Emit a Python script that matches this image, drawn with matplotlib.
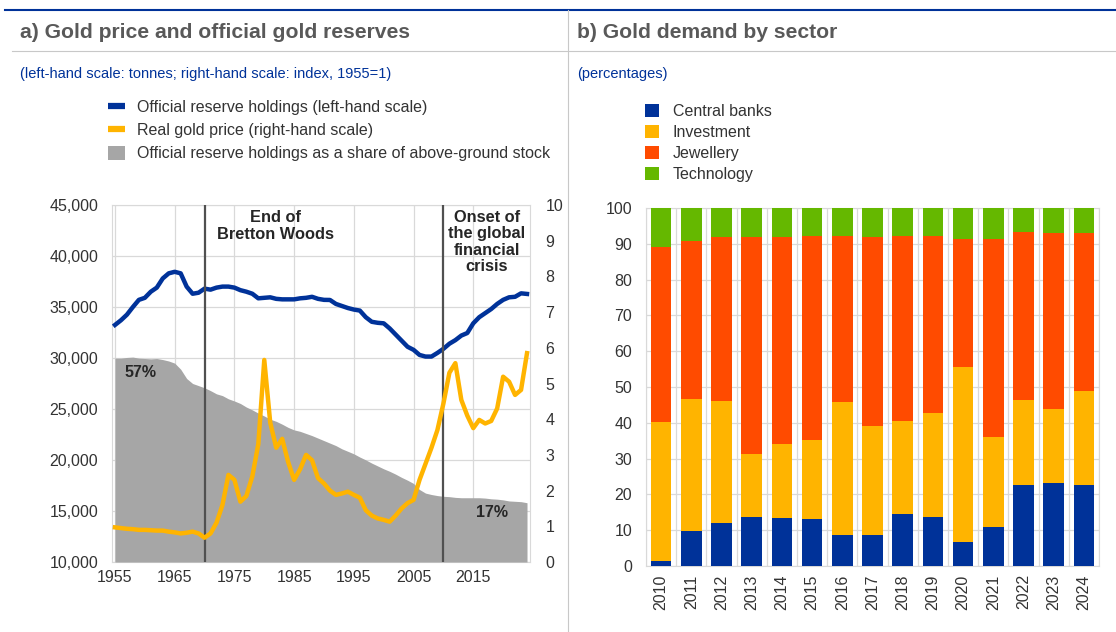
import matplotlib
matplotlib.use('Agg')
import matplotlib.pyplot as plt
import numpy as np
from matplotlib.lines import Line2D
from matplotlib.patches import Patch
from matplotlib.ticker import FuncFormatter, MultipleLocator

plt.rcParams['font.family'] = ['Liberation Sans', 'DejaVu Sans']

# ---------------- data: panel a ----------------
years = list(range(1955, 2025))
reserves = [33240, 33700, 34250, 35000, 35700, 35900, 36500, 36900, 37800, 38300,
            38450, 38300, 37000, 36300, 36400, 36800, 36700, 36900, 37000, 37000,
            36900, 36650, 36500, 36300, 35850, 35900, 35950, 35800, 35750, 35750,
            35750, 35850, 35900, 36000, 35800, 35700, 35690, 35300, 35100, 34900,
            34750, 34650, 34000, 33550, 33450, 33400, 32900, 32300, 31700, 31100,
            30800, 30300, 30140, 30140, 30500, 30900, 31400, 31750, 32200, 32450,
            33400, 34000, 34400, 34800, 35300, 35700, 35950, 36000, 36340, 36280]
gold_price = [0.97, 0.95, 0.93, 0.92, 0.90, 0.90, 0.89, 0.88, 0.88, 0.85,
              0.83, 0.80, 0.82, 0.85, 0.80, 0.68, 0.80, 1.10, 1.60, 2.44,
              2.30, 1.69, 1.85, 2.40, 3.30, 5.66, 3.90, 3.20, 3.45, 2.80,
              2.30, 2.60, 3.00, 2.85, 2.35, 2.20, 2.00, 1.88, 1.92, 1.97,
              1.88, 1.80, 1.45, 1.30, 1.22, 1.18, 1.13, 1.30, 1.50, 1.65,
              1.74, 2.30, 2.75, 3.20, 3.70, 4.44, 5.30, 5.57, 4.54, 4.10,
              3.75, 3.98, 3.88, 3.95, 4.30, 5.19, 5.05, 4.68, 4.82, 5.85]
share = [57.1, 57.1, 57.3, 57.4, 57.1, 57.0, 56.9, 57.0, 56.7, 56.3,
         55.7, 54.0, 51.4, 50.0, 49.4, 48.8, 48.0, 47.1, 46.6, 45.7,
         45.1, 44.4, 43.4, 42.6, 41.7, 40.9, 40.0, 39.4, 38.6, 37.7,
         37.0, 36.6, 36.0, 35.4, 34.7, 34.0, 33.3, 32.6, 31.7, 31.0,
         30.3, 29.4, 28.6, 27.7, 26.9, 26.1, 25.4, 24.6, 23.7, 22.9,
         22.0, 20.3, 19.3, 18.9, 18.6, 18.4, 18.3, 18.1, 18.0, 18.0,
         18.0, 18.0, 17.9, 17.7, 17.6, 17.4, 17.1, 17.0, 16.9, 16.6]
event_years = [1970, 2010]
event_labels = ['End of\nBretton Woods', 'Onset of\nthe global\nfinancial\ncrisis']
share_labels = ['57%', '17%']

# ---------------- data: panel b ----------------
bar_years = [str(y) for y in range(2010, 2025)]
central_banks = [1.5, 9.8, 11.9, 13.6, 13.3, 13.0, 8.7, 8.7, 14.5, 13.8, 6.6, 10.8, 22.6, 23.1, 22.6]
investment = [38.7, 36.8, 34.3, 17.6, 20.8, 22.2, 37.2, 30.4, 26.1, 28.9, 49.0, 25.2, 23.7, 20.7, 26.2]
jewellery = [48.8, 44.2, 45.6, 60.6, 57.7, 57.1, 46.4, 52.7, 51.7, 49.6, 35.8, 55.4, 47.0, 49.2, 44.2]
technology = [11.0, 9.2, 8.2, 8.2, 8.2, 7.7, 7.7, 8.2, 7.7, 7.7, 8.6, 8.6, 6.7, 7.0, 7.0]
sectors = ['Central banks', 'Investment', 'Jewellery', 'Technology']

BLUE = '#003299'
GOLD = '#FFB400'
ORANGE = '#FF4B00'
GREEN = '#65B800'
GREY = '#A6A6A6'
TEXT = '#333333'
GRID = '#D9D9D9'
FS = 11.5

W, H = 1116, 632
fig = plt.figure(figsize=(W / 100, H / 100), dpi=100)


def fx(x):
    return x / W


def fy(y):
    return 1 - y / H


# frame lines
fig.add_artist(Line2D([fx(5), 1], [fy(10), fy(10)], color=BLUE, lw=1.5))
fig.add_artist(Line2D([fx(12), 1], [fy(51), fy(51)], color='#C8C8C8', lw=0.8))
fig.add_artist(Line2D([fx(568), fx(568)], [fy(10), 0], color='#C8C8C8', lw=0.8))

fig.text(fx(20), fy(32), 'a) Gold price and official gold reserves', fontsize=15.2,
         fontweight='bold', color='#595959', va='center')
fig.text(fx(577), fy(32), 'b) Gold demand by sector', fontsize=15.2,
         fontweight='bold', color='#595959', va='center')
fig.text(fx(20), fy(74), '(left-hand scale: tonnes; right-hand scale: index, 1955=1)',
         fontsize=10.5, color=BLUE, va='center')
fig.text(fx(577), fy(74), '(percentages)', fontsize=10.5, color=BLUE, va='center')

# ---------------- panel a ----------------
ax = fig.add_axes([fx(112), fy(562), (530 - 112) / W, (562 - 205) / H])
ax.set_xlim(1954.5, 2024.5)
ax.set_ylim(10000, 45000)
ax.yaxis.set_major_locator(MultipleLocator(5000))
ax.yaxis.set_major_formatter(FuncFormatter(lambda v, p: f'{int(v):,}'))
ax.set_xticks(range(1955, 2025, 10))
ax.grid(color=GRID, lw=0.9)
ax.set_axisbelow(True)
ax.tick_params(length=0, labelsize=FS, colors=TEXT)
ax.tick_params(axis='y', pad=10)
ax.tick_params(axis='x', pad=6)
for s in ax.spines.values():
    s.set_color(GRID)
ax.plot(years, reserves, color=BLUE, lw=3.2, solid_joinstyle='round', zorder=3)

ax_s = ax.twinx()
ax_s.set_ylim(0, 100)
ax_s.axis('off')
ax_s.fill_between(years, 0, share, color=GREY, lw=0)

ax_g = ax.twinx()
ax_g.set_ylim(0, 10)
ax_g.yaxis.set_major_locator(MultipleLocator(1))
ax_g.tick_params(length=0, labelsize=FS, colors=TEXT, pad=11)
for s in ax_g.spines.values():
    s.set_visible(False)
for ev in event_years:
    ax_g.axvline(ev, color='#505050', lw=1.6, zorder=1)
ax_g.plot(years, gold_price, color=GOLD, lw=3.2, solid_joinstyle='round', zorder=3)

ax_g.text(0.39, 0.986, event_labels[0], transform=ax_g.transAxes, ha='center', va='top',
          fontsize=11.8, fontweight='bold', color='#262626', linespacing=1.15)
ax_g.text(0.897, 0.986, event_labels[1], transform=ax_g.transAxes, ha='center', va='top',
          fontsize=11.8, fontweight='bold', color='#262626', linespacing=1.12)
ax_g.text(0.067, 0.532, share_labels[0], transform=ax_g.transAxes, ha='center', va='center',
          fontsize=11.5, fontweight='bold', color='#262626')
ax_g.text(0.909, 0.14, share_labels[1], transform=ax_g.transAxes, ha='center', va='center',
          fontsize=11.5, fontweight='bold', color='#262626')

handles_a = [Line2D([], [], color=BLUE, lw=4.5, solid_capstyle='butt'),
             Line2D([], [], color=GOLD, lw=4.5, solid_capstyle='butt'),
             Patch(facecolor=GREY, edgecolor='none')]
labels_a = ['Official reserve holdings (left-hand scale)', 'Real gold price (right-hand scale)',
            'Official reserve holdings as a share of above-ground stock']
fig.legend(handles_a, labels_a, loc='upper left', bbox_to_anchor=(fx(108), fy(100)),
           frameon=False, fontsize=FS, handlelength=1.06, handleheight=0.9,
           handletextpad=0.75, labelspacing=0.5, borderpad=0, borderaxespad=0,
           labelcolor=TEXT)

# ---------------- panel b ----------------
bx = fig.add_axes([fx(646), fy(566), (1099 - 646) / W, (566 - 208) / H])
xpos = np.arange(len(bar_years))
colors = [BLUE, GOLD, ORANGE, GREEN]
bottom = np.zeros(len(bar_years))
for vals, col, lab in zip([central_banks, investment, jewellery, technology], colors, sectors):
    bx.bar(xpos, vals, width=0.68, bottom=bottom, color=col, label=lab, zorder=3)
    bottom = bottom + np.array(vals)
bx.set_xlim(-0.5, len(bar_years) - 0.5)
bx.set_ylim(0, 100)
bx.yaxis.set_major_locator(MultipleLocator(10))
bx.set_xticks(xpos)
bx.set_xticklabels(bar_years, rotation=90)
bx.set_xticks(np.arange(-0.5, len(bar_years), 1), minor=True)
bx.grid(axis='y', which='major', color=GRID, lw=0.9)
bx.grid(axis='x', which='minor', color=GRID, lw=0.9)
bx.set_axisbelow(True)
bx.tick_params(which='both', length=0, labelsize=FS, colors=TEXT)
bx.tick_params(axis='y', pad=10)
bx.tick_params(axis='x', pad=6)
for s in bx.spines.values():
    s.set_color(GRID)

hb, lb = bx.get_legend_handles_labels()
fig.legend(hb, lb, loc='upper left', bbox_to_anchor=(fx(645), fy(104)),
           frameon=False, fontsize=FS, handlelength=0.875, handleheight=0.83,
           handletextpad=0.875, labelspacing=0.38, borderpad=0, borderaxespad=0,
           labelcolor=TEXT)

fig.savefig('out.png', dpi=100)
